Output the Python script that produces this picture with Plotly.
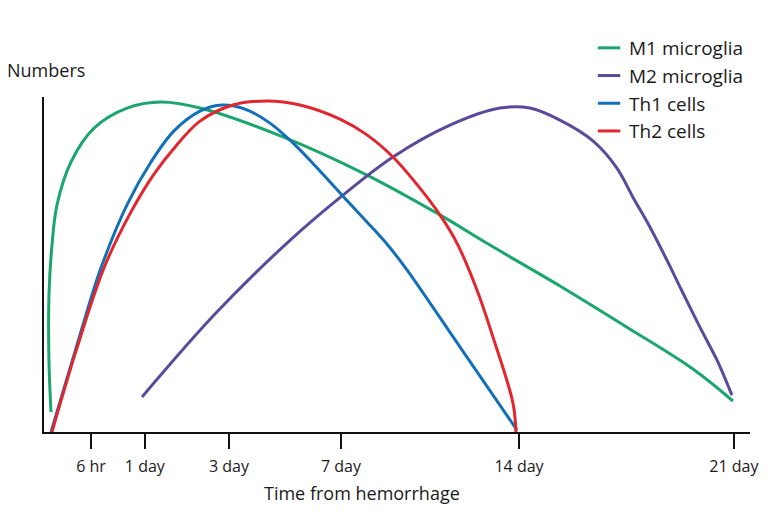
import plotly.graph_objects as go

# ---- data (schematic) ----
tick_labels = ["6 hr", "1 day", "3 day", "7 day", "14 day", "21 day"]
tick_pos = [1.43, 3.07, 5.63, 9.04, 14.46, 21.0]

m1_x = [0.213, 0.152, 0.152, 0.243, 0.396, 0.822, 1.522, 2.526, 3.561, 4.748, 7.274, 9.830, 12.052, 13.574, 15.704, 17.744, 19.752, 20.970]
m1_y = [5.97, 20.9, 40.9, 55.8, 67.8, 80.6, 90.7, 96.7, 98.5, 96.7, 88.1, 76.7, 64.8, 55.8, 43.6, 31.3, 18.8, 9.25]

m2_x = [2.983, 5.204, 7.396, 9.100, 10.622, 12.357, 13.878, 14.791, 15.704, 16.709, 17.439, 17.926, 18.443, 18.961, 19.448, 19.965, 20.483, 20.939]
m2_y = [10.45, 35.2, 56.4, 70.7, 82.1, 91.6, 96.7, 96.7, 93.1, 86.9, 78.8, 70.1, 61.2, 51.3, 41.5, 31.3, 21.5, 11.0]

th1_x = [0.213, 1.004, 1.735, 2.526, 3.257, 3.957, 4.748, 5.417, 6.117, 6.878, 7.639, 8.400, 9.100, 9.830, 10.439, 11.048, 12.722, 14.396]
th1_y = [0.0, 26.0, 49.0, 67.8, 80.6, 89.9, 95.8, 97.6, 96.4, 92.2, 85.7, 77.9, 70.4, 62.7, 56.1, 48.4, 24.5, 0.6]

th2_x = [0.243, 1.004, 1.826, 2.648, 3.348, 4.017, 4.748, 5.752, 6.787, 7.791, 9.009, 9.830, 10.622, 11.443, 12.052, 12.570, 13.179, 13.665, 14.274, 14.365]
th2_y = [0.0, 25.1, 49.0, 65.7, 77.0, 85.4, 92.8, 97.6, 98.8, 97.6, 93.4, 88.7, 82.1, 72.8, 64.8, 56.4, 42.4, 28.4, 8.66, 0.0]

series = [
    ("M1 microglia", m1_x, m1_y, "#1aa66c"),
    ("M2 microglia", m2_x, m2_y, "#5a4a9c"),
    ("Th1 cells", th1_x, th1_y, "#136fb6"),
    ("Th2 cells", th2_x, th2_y, "#e1262d"),
]

FONT = "Open Sans"
fig = go.Figure()

for i, (name, xs, ys, col) in enumerate(series):
    fig.add_trace(go.Scatter(
        x=xs, y=ys, mode="lines", name=name, showlegend=False,
        line=dict(color=col, width=3, shape="spline", smoothing=1.0),
        hoverinfo="skip",
    ))

for i, (name, xs, ys, col) in enumerate(series):
    fig.add_trace(go.Scatter(
        x=[None], y=[None], mode="markers", name=name, legendgroup=f"g{i}",
        marker=dict(symbol="line-ew", size=16, color=col, line=dict(width=3, color=col)),
    ))

# page body has an 8px default margin, so the figure is offset by 8px
fig.update_layout(
    width=780, height=530,
    margin=dict(l=36, r=38, t=89, b=106, autoexpand=False),
    paper_bgcolor="white", plot_bgcolor="white",
    font=dict(family=FONT, color="#1a1a1a"),
    showlegend=True,
    legend=dict(
        x=0.772, y=1.203, xanchor="left", yanchor="top",
        font=dict(family=FONT, size=19, color="#1a1a1a"),
        traceorder="grouped", tracegroupgap=0,
        itemwidth=30, bgcolor="rgba(0,0,0,0)",
    ),
    xaxis=dict(
        range=[0, 21.49], showgrid=False, zeroline=False,
        showline=True, linecolor="#111", linewidth=2,
        tickmode="array", tickvals=tick_pos, ticktext=tick_labels,
        ticks="outside", ticklen=15, tickwidth=2, tickcolor="#111",
        tickfont=dict(family=FONT, size=16, color="#1a1a1a"),
        ticklabelstandoff=4,
    ),
    yaxis=dict(
        range=[0, 100], showgrid=False, zeroline=False,
        showline=True, linecolor="#111", linewidth=2,
        showticklabels=False, ticks="",
    ),
    annotations=[
        dict(text="Numbers", xref="paper", yref="paper", x=-0.055, y=1.081,
             xanchor="left", yanchor="middle", showarrow=False,
             font=dict(family=FONT, size=18, color="#1a1a1a")),
        dict(text="Time from hemorrhage", xref="paper", yref="paper", x=0.4504, y=-0.182,
             xanchor="center", yanchor="middle", showarrow=False,
             font=dict(family=FONT, size=18, color="#1a1a1a")),
    ],
)

fig.write_html("out.html")
